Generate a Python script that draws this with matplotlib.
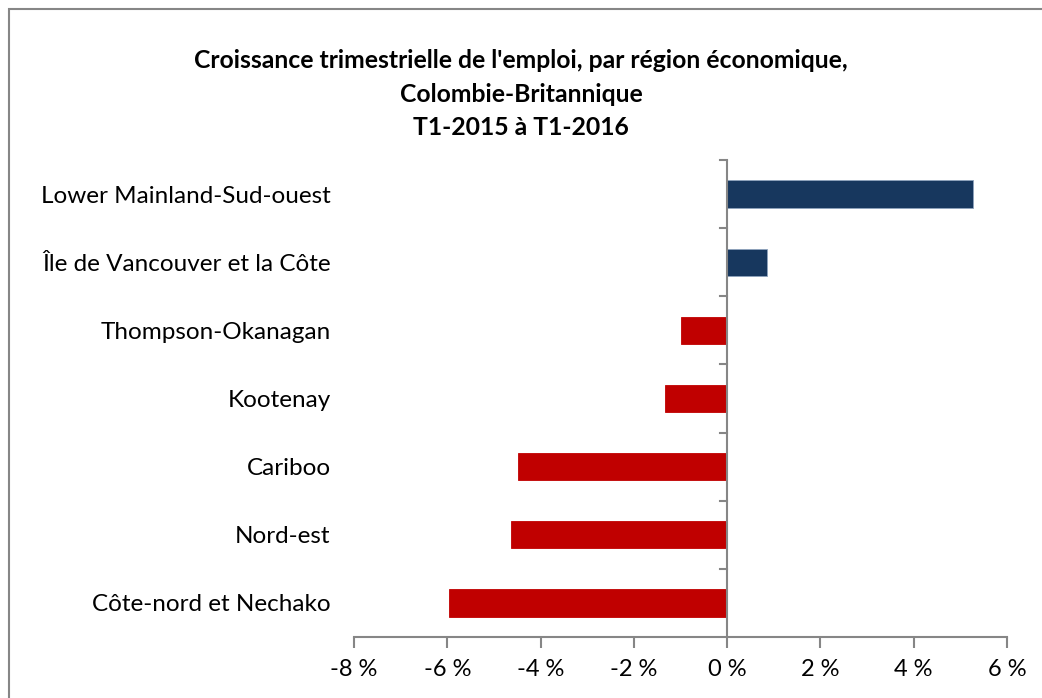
import matplotlib
matplotlib.use("Agg")
import matplotlib.pyplot as plt
from matplotlib.patches import Rectangle

regions = ["Lower Mainland-Sud-ouest", "Île de Vancouver et la Côte", "Thompson-Okanagan",
           "Kootenay", "Cariboo", "Nord-est", "Côte-nord et Nechako"]
growth = [5.27, 0.86, -0.99, -1.33, -4.48, -4.63, -5.96]
xticks = [-8, -6, -4, -2, 0, 2, 4, 6]
xtick_labels = ["-8 %", "-6 %", "-4 %", "-2 %", "0 %", "2 %", "4 %", "6 %"]
title = "Croissance trimestrielle de l'emploi, par région économique,\nColombie-Britannique\nT1-2015 à T1-2016"

plt.rcParams['font.family'] = ['Lato', 'DejaVu Sans']

fig = plt.figure(figsize=(10.42, 6.98), dpi=100)
ax = fig.add_axes([354/1042, 1-637/698, (1007-354)/1042, (637-160)/698])

pos = list(range(len(regions)))[::-1]
colors = ['#17375E' if v >= 0 else '#C00000' for v in growth]
edges = ['#8EA3BD' if v >= 0 else '#C00000' for v in growth]
ax.barh(pos, growth, height=0.4, color=colors, edgecolor=edges, linewidth=0.6)

ax.set_xlim(-8, 6)
ax.set_ylim(-0.5, len(regions) - 0.5)
ax.set_xticks(xticks)
ax.set_xticklabels(xtick_labels, fontsize=17)
ax.set_yticks([])

for s in ['top', 'right', 'left']:
    ax.spines[s].set_visible(False)
ax.spines['bottom'].set_color('#868686')
ax.spines['bottom'].set_linewidth(1.5)
ax.tick_params(axis='x', direction='out', length=8, width=1.5, color='#868686', pad=8)

# vertical axis at zero with category boundary ticks
ax.axvline(0, color='#868686', linewidth=1.5, zorder=3)
for b in range(len(regions)):
    yb = b + 0.5
    ax.plot([-0.15, 0], [yb, yb], color='#868686', linewidth=1.5, clip_on=False, zorder=3)

for p, r in zip(pos, regions):
    ax.text(-8.5, p - 0.03, r, ha='right', va='center', fontsize=17.5, transform=ax.transData)

fig.text(521/1042, 1-94/698, title, ha='center', va='center', fontsize=17.8,
         fontweight='bold', linespacing=1.55)

fig.patches.append(Rectangle((9/1042, -0.01), 1.1, 1 - 9/698 + 0.01, transform=fig.transFigure,
                             fill=False, edgecolor='#868686', linewidth=1.5))

fig.savefig("out.png", dpi=100)
